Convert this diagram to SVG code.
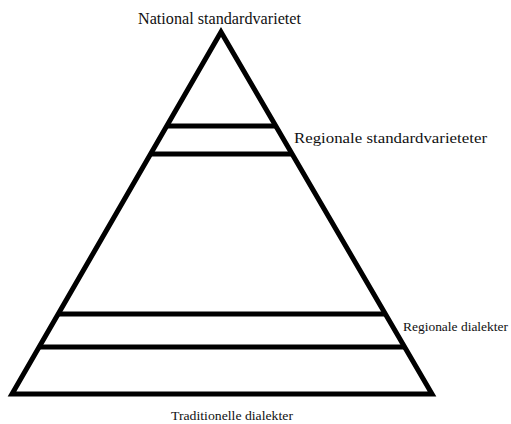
<svg xmlns="http://www.w3.org/2000/svg" width="511" height="424" viewBox="0 0 511 424">
  <style>
    .frame { fill: none; stroke: #000; stroke-width: 5; stroke-linejoin: miter; stroke-miterlimit: 20; }
    .band { stroke: #000; stroke-width: 5; }
    .label { font-family: "Liberation Serif", "DejaVu Serif", serif; fill: #111; }
  </style>
  <rect width="511" height="424" fill="#fff"/>
  <g id="pyramid">
    <polygon class="frame" points="221,32 12,394 432,394"/>
  </g>
  <g id="bands">
    <line class="band" x1="167" y1="126" x2="275" y2="126"/>
    <line class="band" x1="151" y1="154" x2="291" y2="154"/>
    <line class="band" x1="58" y1="314" x2="385" y2="314"/>
    <line class="band" x1="40" y1="347" x2="404" y2="347"/>
  </g>
  <g id="labels">
    <text class="label" x="138" y="24" font-size="17.5" textLength="163" lengthAdjust="spacingAndGlyphs">National standardvarietet</text>
    <text class="label" x="294" y="143" font-size="15.5" textLength="193" lengthAdjust="spacingAndGlyphs">Regionale standardvarieteter</text>
    <text class="label" x="403" y="331" font-size="13.5" textLength="105" lengthAdjust="spacingAndGlyphs">Regionale dialekter</text>
    <text class="label" x="171" y="420" font-size="13.5" textLength="122" lengthAdjust="spacingAndGlyphs">Traditionelle dialekter</text>
  </g>
</svg>
